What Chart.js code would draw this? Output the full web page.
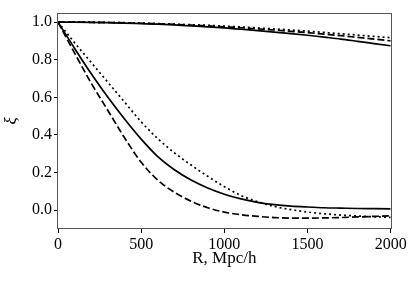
<!DOCTYPE html>
<html>
<head>
<meta charset="utf-8">
<script src="https://cdn.jsdelivr.net/npm/chart.js@4/dist/chart.umd.min.js"></script>
<style>
  html, body { margin: 0; padding: 0; background: #fff; }
  #wrap { width: 415px; height: 283px; }
</style>
</head>
<body>
<div id="wrap"><canvas id="chart" width="415" height="283"></canvas></div>
<script>
// R values (Mpc/h)
const radii = [0, 100, 200, 300, 400, 500, 600, 700, 800, 900, 1000,
  1100, 1200, 1300, 1400, 1500, 1600, 1700, 1800, 1900, 2000];

// slowly decaying curves (top)
const slowSolid = [1.000, 1.000, 0.999, 0.997, 0.995, 0.992, 0.989, 0.985, 0.980, 0.975, 0.969,
  0.962, 0.955, 0.947, 0.939, 0.930, 0.920, 0.910, 0.898, 0.886, 0.874];
const slowDashed = [1.000, 1.000, 0.999, 0.998, 0.996, 0.994, 0.991, 0.988, 0.984, 0.980, 0.975,
  0.970, 0.964, 0.958, 0.951, 0.944, 0.936, 0.928, 0.919, 0.910, 0.900];
const slowDotted = [1.000, 1.000, 0.999, 0.998, 0.997, 0.995, 0.992, 0.989, 0.986, 0.983, 0.979,
  0.974, 0.969, 0.964, 0.958, 0.952, 0.945, 0.938, 0.931, 0.924, 0.917];

// fast decaying curves (bottom)
const fastSolid = [1.000, 0.860, 0.725, 0.600, 0.485, 0.378, 0.285, 0.215, 0.160, 0.118, 0.085,
  0.060, 0.042, 0.030, 0.022, 0.017, 0.013, 0.011, 0.009, 0.008, 0.007];
const fastDashed = [1.000, 0.835, 0.675, 0.530, 0.385, 0.255, 0.160, 0.095, 0.048, 0.013, -0.010,
  -0.024, -0.033, -0.039, -0.042, -0.042, -0.041, -0.039, -0.036, -0.033, -0.030];
const fastDotted = [1.000, 0.890, 0.785, 0.680, 0.575, 0.470, 0.380, 0.305, 0.240, 0.180, 0.125,
  0.078, 0.045, 0.020, 0.003, -0.010, -0.019, -0.026, -0.031, -0.035, -0.038];

const xTicks = [0, 500, 1000, 1500, 2000];
const yTicks = [0.0, 0.2, 0.4, 0.6, 0.8, 1.0];

const FONT = { family: '"Liberation Serif", "DejaVu Serif", serif', size: 16 };

function series(values, dash) {
  return {
    data: values.map((v, i) => ({ x: radii[i], y: v })),
    borderColor: '#000',
    borderWidth: 1.7,
    borderDash: dash,
    pointRadius: 0,
    fill: false,
    cubicInterpolationMode: 'monotone'
  };
}

// draw the full box around the plot like matplotlib spines
const frame = {
  id: 'frame',
  afterDraw(chart) {
    const { ctx, chartArea: a } = chart;
    ctx.save();
    ctx.strokeStyle = '#555';
    ctx.lineWidth = 1;
    ctx.strokeRect(Math.round(a.left) - 0.5, Math.round(a.top) + 0.5,
      Math.round(a.right - a.left) + 1, Math.round(a.bottom - a.top) - 1);
    ctx.restore();
  }
};

new Chart(document.getElementById('chart').getContext('2d'), {
  type: 'line',
  data: {
    datasets: [
      series(slowSolid, []),
      series(slowDashed, [7, 3]),
      series(slowDotted, [2, 3]),
      series(fastSolid, []),
      series(fastDashed, [7, 3]),
      series(fastDotted, [2, 3])
    ]
  },
  options: {
    responsive: false,
    animation: false,
    devicePixelRatio: 1,
    layout: { padding: { top: 12.7, right: 24.3, bottom: 0, left: 0 } },
    plugins: { legend: { display: false }, tooltip: { enabled: false }, title: { display: false } },
    scales: {
      x: {
        type: 'linear',
        min: 0,
        max: 2000,
        afterFit: (s) => { s.height = 54; },
        afterBuildTicks: (s) => { s.ticks = xTicks.map(v => ({ value: v })); },
        border: { display: false },
        grid: { drawOnChartArea: false, drawTicks: true, tickLength: 4, color: '#000', lineWidth: 1 },
        ticks: { color: '#000', font: FONT, padding: 2, maxRotation: 0, callback: (v) => String(v) },
        title: { display: true, text: 'R, Mpc/h', color: '#000', font: { ...FONT, size: 17 }, padding: { top: 0, bottom: 14 } }
      },
      y: {
        type: 'linear',
        min: -0.1,
        max: 1.05,
        afterFit: (s) => { s.width = 58; },
        afterBuildTicks: (s) => { s.ticks = yTicks.map(v => ({ value: v })); },
        border: { display: false },
        grid: { drawOnChartArea: false, drawTicks: true, tickLength: 4, color: '#000', lineWidth: 1 },
        ticks: { color: '#000', font: FONT, padding: 2, callback: (v) => v.toFixed(1) },
        title: { display: true, text: 'ξ', color: '#000', font: { ...FONT, size: 17, style: 'italic' }, padding: { top: 1, bottom: 0 } }
      }
    }
  },
  plugins: [frame]
});
</script>
</body>
</html>
